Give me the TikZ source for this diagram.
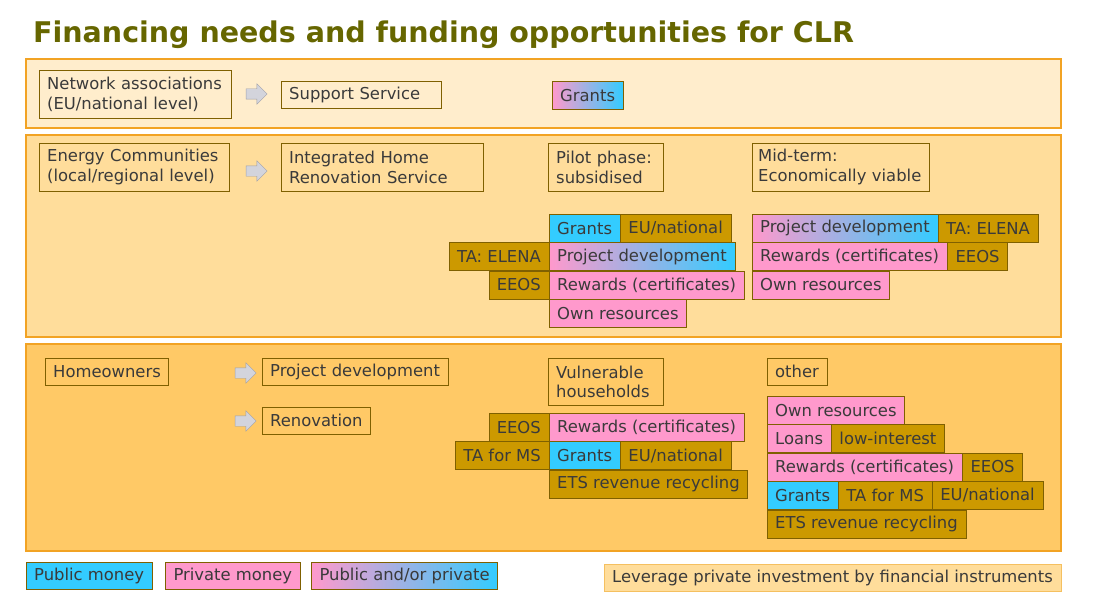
\documentclass[tikz,border=0pt]{standalone}
\usepackage{fontspec}
\setmainfont{DejaVu Sans}
\usetikzlibrary{positioning}
\usetikzlibrary{shapes.arrows}
\definecolor{pubBlue}{HTML}{33CCFF}
\definecolor{privPink}{HTML}{FF99CC}
\definecolor{srcGold}{HTML}{CC9900}
\definecolor{boxLine}{HTML}{7F6000}
\definecolor{panelLine}{HTML}{F2A324}
\definecolor{titleOlive}{HTML}{666600}
\definecolor{txtDark}{HTML}{3A3A3A}
\definecolor{panelA}{HTML}{FFEDCC}
\definecolor{panelB}{HTML}{FFDD9B}
\definecolor{panelC}{HTML}{FFC966}
\definecolor{levLine}{HTML}{F5C060}
\definecolor{arrFill}{HTML}{D3D4DC}
\definecolor{arrLine}{HTML}{A0A1A9}
\tikzset{
	finnode/.style = {align=left, inner xsep=8pt, inner ysep=0pt,
		minimum height=28pt, text=txtDark, draw=boxLine,
		font=\fontsize{16.4}{19.5}\selectfont},
	fin_b/.style = {finnode, fill=pubBlue},% public money
	fin_p/.style = {finnode, fill=privPink},% private money
	fin_g/.style = {finnode, left color=privPink, right color=pubBlue},% public and/or private
	fin_o/.style = {finnode, fill=srcGold},% source, programme
	fin_l/.style = {finnode, text width=#1, minimum height=27pt},% actor, service
	fin_a/.style = {single arrow, draw=arrLine, fill=arrFill, inner xsep=0pt,
		inner ysep=5pt, minimum width=20pt, minimum height=21pt,
		single arrow head extend=5pt},
	panel/.style = {draw=panelLine, line width=2pt}
}

\begin{document}
\begin{tikzpicture}[x=1pt,y=-1pt]
	\useasboundingbox (0,0) rectangle (1100,615);
	\node[anchor=base west, text=titleOlive, inner sep=0pt,
		font=\fontsize{28.5}{32}\selectfont\bfseries] (title) at (33,43)
		{Financing needs and funding opportunities for CLR};
	\draw[panel, fill=panelA] (26,59) rectangle (1061,128);
	\draw[panel, fill=panelB] (26,135) rectangle (1061,337);
	\draw[panel, fill=panelC] (26,344) rectangle (1061,551);
	% network level
	\node[fin_l=176pt, minimum height=48pt, anchor=north west] (netw) at (39,70)
		{Network associations\\(EU/national level)};
	\node[fin_a] (arA) at (254,94) {};
	\node[fin_l=144pt, anchor=north west] (supp) at (281,81) {Support Service};
	\node[fin_g, anchor=north west] (nGr) at (552,81) {Grants};
	% local/regional level
	\node[fin_l=174pt, minimum height=48pt, anchor=north west] (enco) at (39,143)
		{Energy Communities\\(local/regional level)};
	\node[fin_a] (arB) at (254,171) {};
	\node[fin_l=186pt, minimum height=48pt, anchor=north west] (ihrs) at (281,143)
		{Integrated Home\\Renovation Service};
	\node[fin_l=99pt, minimum height=48pt, anchor=north west] (pilot) at (548,143)
		{Pilot phase:\\subsidised};
	\node[fin_l=165pt, inner xsep=6pt, minimum height=48pt, anchor=north west] (midt)
		at (752,143) {Mid-term:\\Economically viable};
	\node[fin_b, anchor=north west] (pGr) at (549,214) {Grants};
	\node[fin_o, right=0pt of pGr] (pEu) {EU/national};
	\node[fin_g, anchor=north west] (pPd) at (pGr.south west) {Project development};
	\node[fin_o, left=0pt of pPd] (pTa) {TA: ELENA};
	\node[fin_p, anchor=north west] (pRw) at (pPd.south west) {Rewards (certificates)};
	\node[fin_o, left=0pt of pRw] (pEe) {EEOS};
	\node[fin_p, anchor=north west] (pOw) at (pRw.south west) {Own resources};
	\node[fin_g, anchor=north west] (mPd) at (752,214) {Project development};
	\node[fin_o, right=0pt of mPd] (mTa) {TA: ELENA};
	\node[fin_p, anchor=north west] (mRw) at (mPd.south west) {Rewards (certificates)};
	\node[fin_o, right=0pt of mRw] (mEe) {EEOS};
	\node[fin_p, anchor=north west] (mOw) at (mRw.south west) {Own resources};
	% homeowners
	\node[fin_l=107pt, anchor=north west] (home) at (45,358) {Homeowners};
	\node[fin_a] (arC) at (243,373) {};
	\node[fin_l=170pt, anchor=north west] (hPd) at (262,358) {Project development};
	\node[fin_a] (arD) at (243,421) {};
	\node[fin_l=92pt, anchor=north west] (hRn) at (262,407) {Renovation};
	\node[fin_l=99pt, minimum height=47pt, anchor=north west] (vuln) at (548,358)
		{Vulnerable\\households};
	\node[fin_l=44pt, anchor=north west] (othr) at (767,358) {other};
	\node[fin_p, anchor=north west] (vRw) at (549,413) {Rewards (certificates)};
	\node[fin_o, left=0pt of vRw] (vEe) {EEOS};
	\node[fin_b, anchor=north west] (vGr) at (vRw.south west) {Grants};
	\node[fin_o, left=0pt of vGr] (vTa) {TA for MS};
	\node[fin_o, right=0pt of vGr] (vEu) {EU/national};
	\node[fin_o, anchor=north west] (vEt) at (vGr.south west) {ETS revenue recycling};
	\node[fin_p, anchor=north west] (oOw) at (767,396) {Own resources};
	\node[fin_p, anchor=north west] (oLo) at (oOw.south west) {Loans};
	\node[fin_o, right=0pt of oLo] (oLi) {low-interest};
	\node[fin_p, anchor=north west] (oRw) at (oLo.south west) {Rewards (certificates)};
	\node[fin_o, right=0pt of oRw] (oEe) {EEOS};
	\node[fin_b, anchor=north west] (oGr) at (oRw.south west) {Grants};
	\node[fin_o, right=0pt of oGr] (oTa) {TA for MS};
	\node[fin_o, right=0pt of oTa] (oEu) {EU/national};
	\node[fin_o, anchor=north west] (oEt) at (oGr.south west) {ETS revenue recycling};
	% legend
	\node[fin_b, minimum height=27pt, anchor=north west] (lgB) at (26,562) {Public money};
	\node[fin_p, minimum height=27pt, right=13pt of lgB] (lgP) {Private money};
	\node[fin_g, minimum height=27pt, right=11pt of lgP] (lgG) {Public and/or private};
	\node[finnode, draw=levLine, fill=panelB, minimum height=27pt, anchor=north east]
		(lgL) at (1061,564) {Leverage private investment by financial instruments};
\end{tikzpicture}
\end{document}
